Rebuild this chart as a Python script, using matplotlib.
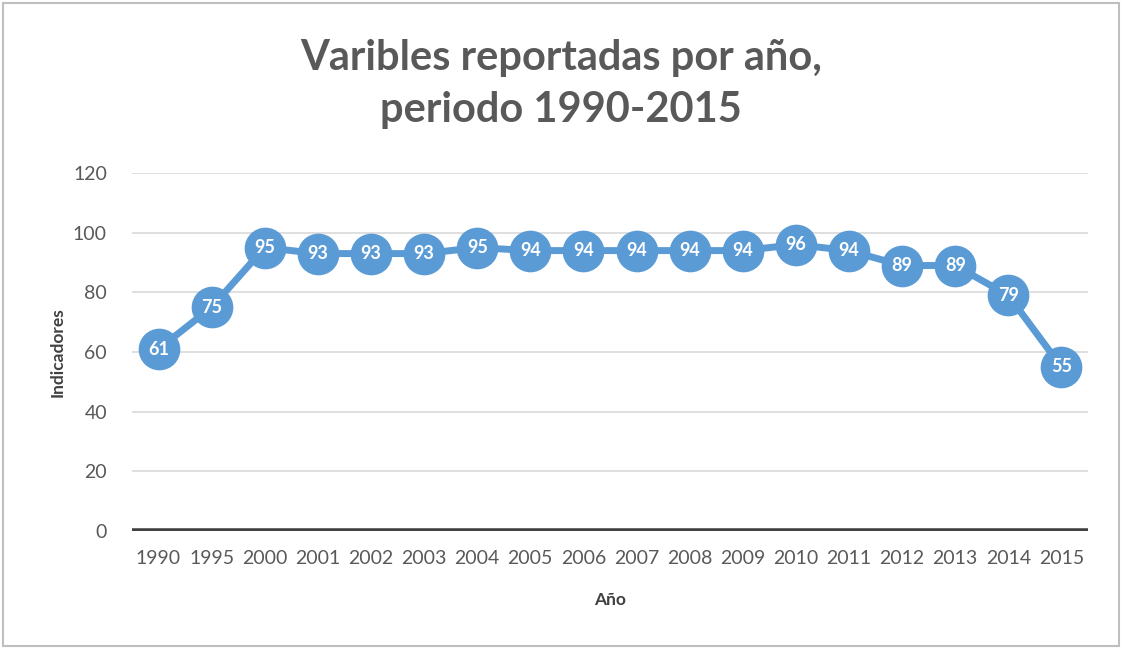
import matplotlib.pyplot as plt
from matplotlib.patches import Rectangle

# datos
anios = ['1990', '1995', '2000', '2001', '2002', '2003', '2004', '2005', '2006',
         '2007', '2008', '2009', '2010', '2011', '2012', '2013', '2014', '2015']
valores = [61, 75, 95, 93, 93, 93, 95, 94, 94, 94, 94, 94, 96, 94, 89, 89, 79, 55]
y_ticks = [0, 20, 40, 60, 80, 100, 120]

plt.rcParams['font.family'] = ['Lato', 'DejaVu Sans']
gris = '#595959'
azul = '#5B9BD5'

fig = plt.figure(figsize=(11.22, 6.49), dpi=100)
ax = fig.add_axes([0.1176, 0.1818, 0.8521, 0.5516])

x = list(range(len(anios)))
ax.plot(x, valores, color=azul, lw=5, marker='o', ms=29, zorder=3, clip_on=False)
for xi, v in zip(x, valores):
    ax.text(xi, v, str(v), color='white', fontsize=13, fontweight='bold',
            ha='center', va='center', zorder=4)

ax.set_xlim(-0.5, len(anios) - 0.5)
ax.set_ylim(0, 120)
ax.set_yticks(y_ticks)
ax.set_xticks(x)
ax.set_xticklabels(anios)
ax.tick_params(axis='both', length=0, labelsize=14, colors=gris)
ax.tick_params(axis='x', pad=14)
ax.tick_params(axis='y', pad=18)
ax.grid(axis='y', color='#D9D9D9', lw=1.2)
ax.set_axisbelow(True)
for s in ax.spines.values():
    s.set_visible(False)
ax.axhline(0, color='#404040', lw=4, zorder=2)

ax.set_ylabel('Indicadores', fontsize=12.5, fontweight='bold', color='#404040', labelpad=5)
ax.set_xlabel('Año', fontsize=12.5, fontweight='bold', color='#404040', labelpad=18)

fig.text(0.5, 0.87, 'Varibles reportadas por año,\nperiodo 1990-2015', ha='center', va='center',
         fontsize=30, fontweight='bold', color=gris, linespacing=1.45)

fig.patches.append(Rectangle((0.003, 0.004), 0.994, 0.992, transform=fig.transFigure,
                             fill=False, edgecolor='#BFBFBF', lw=1.5))

fig.savefig('out.png', dpi=100)
